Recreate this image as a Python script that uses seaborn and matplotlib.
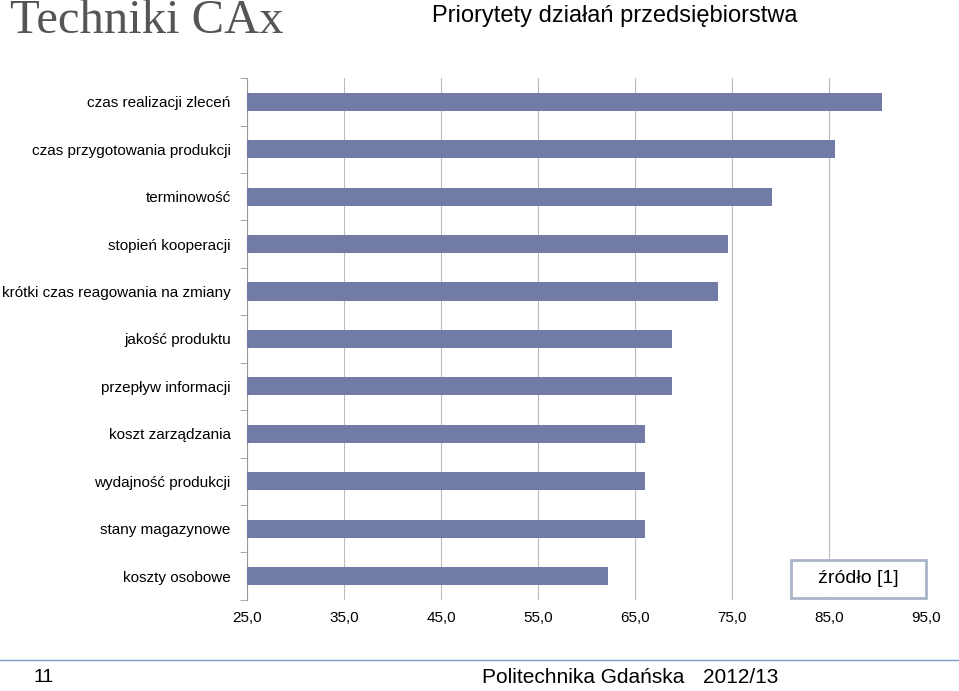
import matplotlib
matplotlib.use("Agg")
import matplotlib.pyplot as plt
import seaborn as sns
import pandas as pd

categories = ["czas realizacji zleceń", "czas przygotowania produkcji", "terminowość",
              "stopień kooperacji", "krótki czas reagowania na zmiany", "jakość produktu",
              "przepływ informacji", "koszt zarządzania", "wydajność produkcji",
              "stany magazynowe", "koszty osobowe"]
values = [90.4, 85.6, 79.1, 74.5, 73.5, 68.8, 68.8, 66.0, 66.0, 66.0, 62.2]
xticks = [25, 35, 45, 55, 65, 75, 85, 95]

df = pd.DataFrame({"cat": categories, "val": values})
fig = plt.figure(figsize=(9.59, 6.91), dpi=100)
ax = fig.add_axes([0.258, 0.132, 0.708, 0.755])
sns.barplot(data=df, x="val", y="cat", color="#717ba5", width=0.38, ax=ax, saturation=1, zorder=3)
ax.set_xlim(25, 95)
ax.set_xticks(xticks)
ax.set_xticklabels([f"{t},0" for t in xticks], fontsize=11, family="Liberation Sans")
ax.set_xlabel(""); ax.set_ylabel("")
ax.tick_params(axis="x", length=0, pad=8)
for l in ax.get_yticklabels():
    l.set_family("Liberation Sans")
ax.set_yticks([i - 0.5 for i in range(len(categories) + 1)], minor=True)
ax.tick_params(axis="y", which="major", length=0, labelsize=11, pad=12)
ax.tick_params(axis="y", which="minor", length=5, color="#999999")
ax.grid(axis="x", color="#bbbbbb", lw=0.8, zorder=0)
for s in ["top", "right", "bottom"]:
    ax.spines[s].set_visible(False)
ax.spines["left"].set_color("#999999")
ax.text(0.9, 0.04, "źródło [1]", transform=ax.transAxes, ha="center", va="center",
        fontsize=14, family="Liberation Sans",
        bbox=dict(boxstyle="square,pad=0.55", fc="white", ec="#aab4c8", lw=2))
ax.texts[-1].set_text("   źródło [1]   ")

fig.text(0.01, 0.97, "Techniki CAx", fontsize=35, family="Liberation Serif", color="#555555", va="center")
fig.text(0.45, 0.977, "Priorytety działań przedsiębiorstwa", fontsize=17, family="Liberation Sans", va="center")
fig.add_artist(plt.Line2D([0.0, 1.0], [0.045, 0.045], color="#7a9cc6", lw=1))
fig.text(0.035, 0.02, "11", fontsize=14, family="Liberation Sans", va="center")
fig.text(0.503, 0.02, "Politechnika Gdańska", fontsize=15, family="Liberation Sans", va="center")
fig.text(0.733, 0.02, "2012/13", fontsize=15, family="Liberation Sans", va="center")
fig.savefig("out.png", dpi=100)
